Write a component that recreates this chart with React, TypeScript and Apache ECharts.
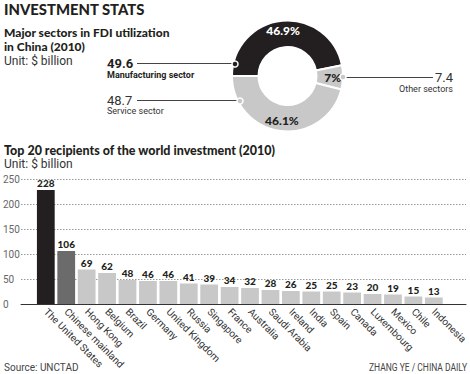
import React, { useEffect, useRef } from "react";
import * as echarts from "echarts";

const sectorNames = ["Manufacturing sector", "Other sectors", "Service sector"];
const sectorValues = [49.6, 7.4, 48.7];

const countries = [
  "The United States", "Chinese mainland", "Hong Kong", "Belgium", "Brazil",
  "Germany", "United Kingdom", "Russia", "Singapore", "France",
  "Australia", "Saudi Arabia", "Ireland", "India", "Spain",
  "Canada", "Luxembourg", "Mexico", "Chile", "Indonesia",
];
const investment = [228, 106, 69, 62, 48, 46, 46, 41, 39, 34, 32, 28, 26, 25, 25, 23, 20, 19, 15, 13];

const yTicks = [0, 50, 100, 150, 200, 250];

const HEAD = "Lato, 'Open Sans', sans-serif";
const FONT = "Roboto, 'Noto Sans', Arial, sans-serif";

export default function App() {
  const ref = useRef<HTMLDivElement>(null);
  useEffect(() => {
    document.body.style.margin = "0";
    const chart = echarts.init(ref.current!, null, { renderer: "svg" });
    const black = "#231f20";
    const dark = "#6b6b6b";
    const light = "#c8c8c8";
    const txt = (text: string, x: number, y: number, size: number, weight: string | number, fill = "#231f20", align = "left", family = FONT, sx = 1) => ({
      type: "text",
      x,
      y,
      scaleX: sx,
      style: {
        text,
        fill,
        font: `${weight} ${size}px ${family}`,
        textAlign: align,
        verticalAlign: "middle",
      },
      z: 10,
    });
    const option: any = {
      animation: false,
      backgroundColor: "#ffffff",
      graphic: [
        txt("INVESTMENT STATS", 4, 9, 14.8, 900, "#231f20", "left", HEAD),
        txt("Major sectors in FDI utilization", 4, 32.5, 12, 900, "#231f20", "left", HEAD),
        txt("in China (2010)", 4, 46, 12, 900, "#231f20", "left", HEAD),
        txt("Unit: $ billion", 4, 61, 12, "normal", "#333"),
        txt("49.6", 107, 63, 13, "bold"),
        txt("Manufacturing sector", 107, 75, 9, "bold"),
        txt("48.7", 107, 100, 13, "normal", "#333"),
        txt("Service sector", 107, 111, 9, "normal", "#333"),
        txt("7.4", 453, 77, 13, "normal", "#333", "right"),
        txt("Other sectors", 453, 89, 9, "normal", "#333", "right"),
        { type: "line", shape: { x1: 137, y1: 63.5, x2: 233, y2: 63.5 }, style: { stroke: "#444", lineWidth: 1 }, z: 5 },
        { type: "line", shape: { x1: 137, y1: 100.5, x2: 238, y2: 100.5 }, style: { stroke: "#444", lineWidth: 1 }, z: 5 },
        { type: "line", shape: { x1: 346, y1: 77.5, x2: 433, y2: 77.5 }, style: { stroke: "#444", lineWidth: 1 }, z: 5 },
        { type: "circle", shape: { cx: 235, cy: 64, r: 3 }, style: { fill: black, stroke: "#fff", lineWidth: 1.5 }, z: 20 },
        { type: "circle", shape: { cx: 240, cy: 101, r: 3 }, style: { fill: light, stroke: "#fff", lineWidth: 1.5 }, z: 20 },
        { type: "circle", shape: { cx: 343, cy: 77, r: 3 }, style: { fill: light, stroke: "#fff", lineWidth: 1.5 }, z: 20 },
        txt("Top 20 recipients of the world investment (2010)", 4, 150, 12.5, 900, "#231f20", "left", HEAD),
        txt("Unit: $ billion", 4, 164, 12, "normal", "#333"),
        txt("Source: UNCTAD", 4, 367, 10, "normal", "#444", "left", FONT, 1),
        txt("ZHANG YE / CHINA DAILY", 369, 367, 10, "normal", "#444", "left", FONT, 0.85),
      ],
      grid: [
        { left: 21, right: 4, top: 179, height: 125 },
        { left: 35.6, width: 416.4, top: 179, height: 125 },
      ],
      xAxis: [
        {
          gridIndex: 0, type: "value", min: 0, max: 1,
          axisLine: { show: true, lineStyle: { color: "#333", width: 1 } },
          axisTick: { show: false }, axisLabel: { show: false }, splitLine: { show: false },
        },
        {
          gridIndex: 1, type: "category", data: countries,
          axisLine: { show: false }, axisTick: { show: false },
          axisLabel: { rotate: -45, interval: 0, margin: 6, fontSize: 10, color: "#333", fontFamily: FONT },
        },
      ],
      yAxis: [
        {
          gridIndex: 0, type: "value", min: yTicks[0], max: yTicks[yTicks.length - 1], interval: 50,
          axisLine: { show: false }, axisTick: { show: false },
          axisLabel: { align: "left", margin: 18, fontSize: 10, color: "#666", fontFamily: FONT },
          splitLine: { show: true, lineStyle: { color: "#999", type: [1.5, 1.5], width: 1 } },
        },
        {
          gridIndex: 1, type: "value", min: 0, max: 250, interval: 50, show: false,
          splitLine: { show: false },
        },
      ],
      series: [
        {
          type: "pie",
          center: [287.5, 76],
          radius: [29, 55.5],
          startAngle: 180,
          clockwise: true,
          avoidLabelOverlap: false,
          data: sectorNames.map((n, i) => ({
            name: n,
            value: sectorValues[i],
            itemStyle: { color: i === 0 ? black : light },
            label: { color: i === 0 ? "#ffffff" : black },
          })),
          itemStyle: { borderColor: "#fff", borderWidth: 2 },
          label: {
            show: true,
            position: "inside",
            fontSize: 12,
            fontWeight: 900,
            fontFamily: HEAD,
            formatter: (p: any) => `${Math.round(p.percent * 10) / 10}%`,
          },
          labelLine: { show: false },
          emphasis: { disabled: true },
        },
        {
          type: "bar",
          xAxisIndex: 1,
          yAxisIndex: 1,
          data: investment,
          barCategoryGap: "13%",
          itemStyle: {
            color: (p: any) => (p.dataIndex === 0 ? black : p.dataIndex === 1 ? dark : light),
          },
          label: {
            show: true,
            position: "top",
            distance: 2,
            fontSize: 10,
            fontWeight: 900,
            color: black,
            fontFamily: HEAD,
          },
          emphasis: { disabled: true },
        },
      ],
    };
    chart.setOption(option);
    return () => chart.dispose();
  }, []);
  return <div ref={ref} style={{ width: 470, height: 374 }} />;
}
